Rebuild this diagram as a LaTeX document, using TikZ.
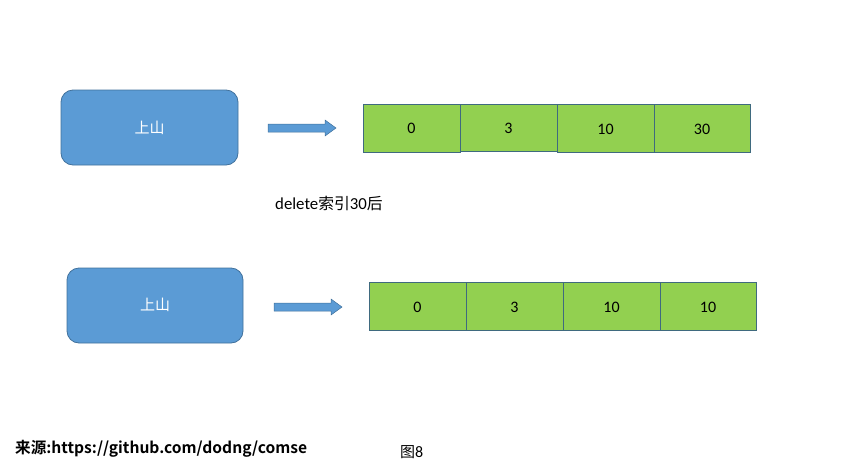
\documentclass[tikz,border=0pt]{standalone}
\usepackage{fontspec}
\setmainfont{Carlito}
\newfontfamily\cjk{Noto Sans CJK SC}
\newfontfamily\cjkb{Noto Sans CJK SC Bold}
\definecolor{boxblue}{HTML}{5B9BD5}
\definecolor{edgeblue}{HTML}{41719C}
\definecolor{celledge}{HTML}{3F6A7F}
\definecolor{cellgreen}{HTML}{92D050}
\tikzset{
  px/.style={x=1pt,y=-1pt},
  keybox/.style={draw=edgeblue,fill=boxblue,rounded corners=12pt,line width=0.8pt},
  keytext/.style={text=white,font=\cjk\fontsize{15}{17}\selectfont},
  cell/.style={draw=celledge,fill=cellgreen,line width=0.6pt},
  num/.style={font=\fontsize{16}{18}\selectfont},
  bigarrow/.style={draw=edgeblue,fill=boxblue,line width=0.5pt},
}
\begin{document}
\begin{tikzpicture}[px]
\useasboundingbox (0,0) rectangle (861,466);
% top row
\draw[keybox] (61,90) rectangle (238,165);
\node[keytext] (k1) at (149.5,127.5) {上山};
\draw[bigarrow] (268,124) -- (325,124) -- (325,120) -- (336,128) -- (325,136) -- (325,132) -- (268,132) -- cycle;
\draw[cell] (363,104) rectangle (460,152);
\node[num] (a0) at (411.5,128) {0};
\draw[cell] (460,104) rectangle (557,151);
\node[num] (a1) at (508.5,128) {3};
\draw[cell] (557,104) rectangle (654,152);
\node[num] (a2) at (605.5,129) {10};
\draw[cell] (654,104) rectangle (750,152);
\node[num] (a3) at (702,129) {30};
% middle text
\node[anchor=west,inner sep=0pt,font=\fontsize{16.8}{19}\selectfont] (t) at (275,203) {delete{\cjk\fontsize{15.8}{18}\selectfont 索引}30{\cjk\fontsize{15.8}{18}\selectfont 后}};
% bottom row
\draw[keybox] (67,268) rectangle (243,343);
\node[keytext] (k2) at (155,305) {上山};
\draw[bigarrow] (274,303) -- (331,303) -- (331,299) -- (342,307) -- (331,315) -- (331,311) -- (274,311) -- cycle;
\draw[cell] (369,282) rectangle (466,330);
\node[num] (b0) at (417.5,307) {0};
\draw[cell] (466,282) rectangle (563,330);
\node[num] (b1) at (514.5,307) {3};
\draw[cell] (563,282) rectangle (660,330);
\node[num] (b2) at (611.5,307) {10};
\draw[cell] (660,282) rectangle (756,330);
\node[num] (b3) at (708,307) {10};
% footer
\node[anchor=west,inner sep=0pt,font=\cjkb\fontsize{15.6}{17}\selectfont] (src) at (15,449) {来源:https://github.com/dodng/comse};
\node[anchor=west,inner sep=0pt] (fig) at (400,452) {{\cjk\fontsize{15}{17}\selectfont 图}{\fontsize{16}{18}\selectfont 8}};
\end{tikzpicture}
\end{document}
